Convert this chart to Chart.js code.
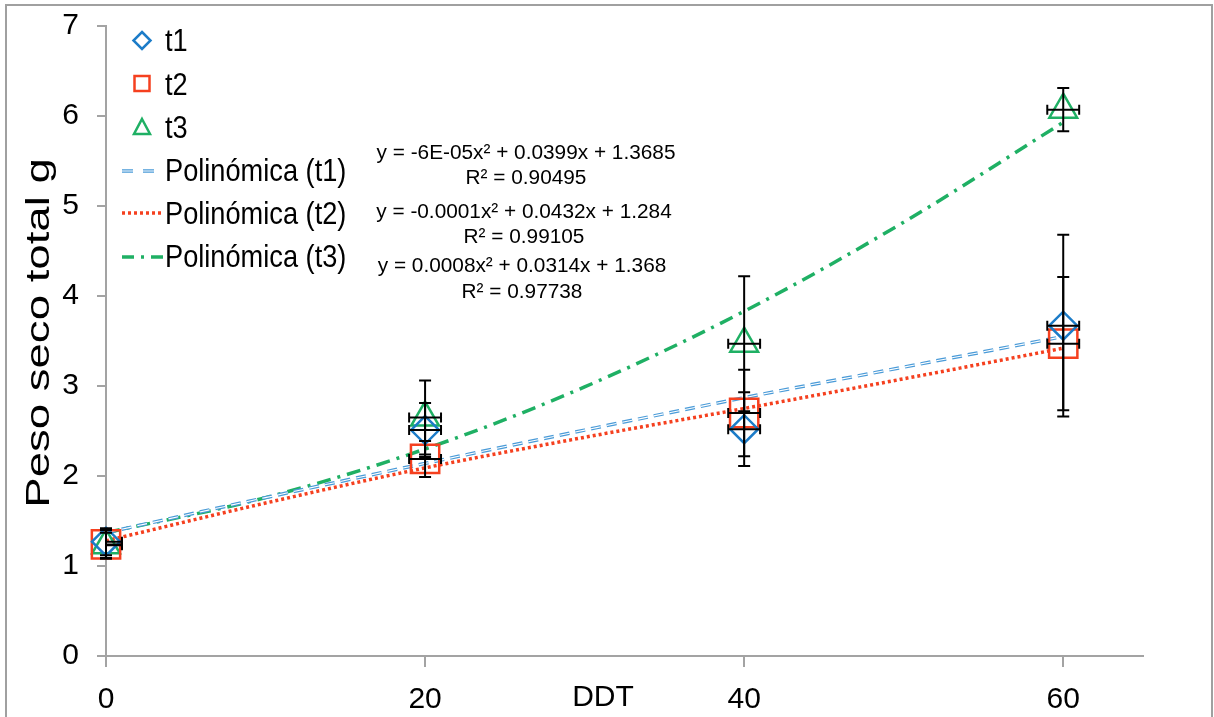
<!DOCTYPE html>
<html>
<head>
<meta charset="utf-8">
<script src="https://cdn.jsdelivr.net/npm/chart.js@4.4.1/dist/chart.umd.min.js"></script>
<style>
  html, body { margin: 0; padding: 0; background: #fff; overflow: hidden; }
</style>
</head>
<body>
<canvas id="chart" width="1214" height="717"></canvas>
<script>
// data
const ddt = [0, 20, 40, 60];
const t1 = [1.27, 2.51, 2.52, 3.67];
const t2 = [1.24, 2.19, 2.70, 3.47];
const t3 = [1.23, 2.65, 3.47, 6.07];
const t1Err = [0.15, 0.30, 0.41, 1.01];
const t2Err = [0.16, 0.20, 0.48, 0.74];
const t3Err = [0.14, 0.41, 0.75, 0.24];
const ddtErr = 1;

// trend lines (polynomial fits as drawn)
const trendX = [0, 10, 20, 30, 40, 50, 60];
const t1Trend = [1.37, 1.76, 2.14, 2.51, 2.87, 3.21, 3.55];
const t2Trend = [1.28, 1.70, 2.09, 2.43, 2.75, 3.08, 3.42];
const t3Trend = [1.37, 1.76, 2.30, 2.99, 3.83, 4.82, 5.93];

const xTicks = [0, 20, 40, 60];
const yTicks = [0, 1, 2, 3, 4, 5, 6, 7];
const seriesNames = ['t1', 't2', 't3'];
const trendNames = ['Polinómica (t1)', 'Polinómica (t2)', 'Polinómica (t3)'];
const equations = [
  ['y = -6E-05x² + 0.0399x + 1.3685', 'R² = 0.90495'],
  ['y = -0.0001x² + 0.0432x + 1.284', 'R² = 0.99105'],
  ['y = 0.0008x² + 0.0314x + 1.368', 'R² = 0.97738']
];
const xTitle = 'DDT';
const yTitle = 'Peso seco total g';

const BLUE = '#1c7cc8', RED = '#f5401f', GREEN = '#1fb064';
const TBLUE = '#4a9bd8';
const AXIS = '#a3a3a3';
const FONT = '"Liberation Sans", Arial, sans-serif';

const pts = (xs, ys) => xs.map((x, i) => ({ x: x, y: ys[i] }));

function markerSet(label, ys, err, style, r, color) {
  return {
    label: label, data: pts(ddt, ys), errY: err, clip: false,
    showLine: false, pointStyle: style, pointRadius: r, pointHoverRadius: r,
    pointBorderWidth: 2.5, borderColor: color, backgroundColor: 'rgba(0,0,0,0)'
  };
}
function trendSet(label, ys, color, dash) {
  return {
    label: label, data: pts(trendX, ys), showLine: true, pointRadius: 0,
    borderColor: color, borderWidth: 3.5, borderDash: dash, borderCapStyle: 'butt',
    cubicInterpolationMode: 'monotone', fill: false
  };
}

// white frame + grey border
const framePlugin = {
  id: 'frame',
  beforeDraw(chart) {
    const ctx = chart.ctx;
    ctx.save();
    ctx.fillStyle = '#fff';
    ctx.fillRect(0, 0, chart.width, chart.height);
    ctx.strokeStyle = '#a0a0a0';
    ctx.lineWidth = 2;
    ctx.strokeRect(6, 5, 1206, 730);
    ctx.restore();
  }
};

// double-line look for the t1 trend
const doubleLine = {
  id: 'doubleLine',
  afterDatasetDraw(chart, args) {
    if (args.index !== 3) return;
    const el = args.meta.dataset;
    const o = el.options;
    const c = o.borderColor, w = o.borderWidth;
    o.borderColor = '#ffffff'; o.borderWidth = 1.1;
    el.draw(chart.ctx, chart.chartArea);
    o.borderColor = c; o.borderWidth = w;
  }
};

// error bars (x and y)
const errorBars = {
  id: 'errorBars',
  afterDatasetsDraw(chart) {
    const ctx = chart.ctx, xs = chart.scales.x, ys = chart.scales.y;
    ctx.save();
    ctx.strokeStyle = '#000';
    ctx.lineWidth = 2;
    chart.data.datasets.forEach(ds => {
      if (!ds.errY) return;
      ds.data.forEach((p, i) => {
        const px = xs.getPixelForValue(p.x), py = ys.getPixelForValue(p.y);
        const top = ys.getPixelForValue(p.y + ds.errY[i]);
        const bot = ys.getPixelForValue(p.y - ds.errY[i]);
        let l = xs.getPixelForValue(p.x - ddtErr);
        const r = xs.getPixelForValue(p.x + ddtErr);
        const lClip = l < xs.left;
        if (lClip) l = xs.left;
        ctx.beginPath();
        ctx.moveTo(px, top); ctx.lineTo(px, bot);
        ctx.moveTo(px - 6, top); ctx.lineTo(px + 6, top);
        ctx.moveTo(px - 6, bot); ctx.lineTo(px + 6, bot);
        ctx.moveTo(l, py); ctx.lineTo(r, py);
        if (!lClip) { ctx.moveTo(l, py - 5); ctx.lineTo(l, py + 5); }
        ctx.moveTo(r, py - 5); ctx.lineTo(r, py + 5);
        ctx.stroke();
      });
    });
    ctx.restore();
  }
};

function squeezedText(ctx, text, x, y, size, sx, align) {
  ctx.save();
  ctx.translate(x, y);
  ctx.scale(sx, 1);
  ctx.font = size + 'px ' + FONT;
  ctx.textAlign = align;
  ctx.textBaseline = 'middle';
  ctx.fillText(text, 0, 0);
  ctx.restore();
}

// legend, equations and axis titles
const annotations = {
  id: 'annotations',
  afterDraw(chart) {
    const ctx = chart.ctx;
    ctx.save();
    ctx.fillStyle = '#000';
    // legend markers
    ctx.lineWidth = 2.5;
    const mx = 142;
    ctx.strokeStyle = BLUE;
    ctx.beginPath();
    ctx.moveTo(mx, 32); ctx.lineTo(mx + 8.5, 40.5); ctx.lineTo(mx, 49); ctx.lineTo(mx - 8.5, 40.5);
    ctx.closePath(); ctx.stroke();
    ctx.strokeStyle = RED;
    ctx.strokeRect(mx - 7.5, 76, 15, 15);
    ctx.strokeStyle = GREEN;
    ctx.beginPath();
    ctx.moveTo(mx, 119); ctx.lineTo(mx + 8, 134); ctx.lineTo(mx - 8, 134);
    ctx.closePath(); ctx.stroke();
    // legend line samples
    ctx.lineWidth = 3.5;
    ctx.strokeStyle = TBLUE; ctx.setLineDash([11, 10]);
    ctx.beginPath(); ctx.moveTo(122, 171); ctx.lineTo(157, 171); ctx.stroke();
    ctx.strokeStyle = '#fff'; ctx.lineWidth = 1.1;
    ctx.beginPath(); ctx.moveTo(122, 171); ctx.lineTo(157, 171); ctx.stroke();
    ctx.lineWidth = 3.5;
    ctx.strokeStyle = RED; ctx.setLineDash([3, 3]);
    ctx.beginPath(); ctx.moveTo(122, 213); ctx.lineTo(163, 213); ctx.stroke();
    ctx.strokeStyle = GREEN; ctx.setLineDash([12, 7, 3, 7]);
    ctx.beginPath(); ctx.moveTo(122, 257); ctx.lineTo(165, 257); ctx.stroke();
    ctx.setLineDash([]);
    // legend texts
    const ly = [42, 86, 129];
    seriesNames.forEach((s, i) => squeezedText(ctx, s, 165, ly[i], 32, 0.85, 'left'));
    const ty = [172, 215, 258];
    trendNames.forEach((s, i) => squeezedText(ctx, s, 165, ty[i], 32, 0.85, 'left'));
    // trend equations
    const ey = [[153, 178], [212, 237], [266, 292]];
    const ex = [526, 524, 522];
    equations.forEach((e, i) => {
      squeezedText(ctx, e[0], ex[i], ey[i][0], 20, 1.04, 'center');
      squeezedText(ctx, e[1], ex[i], ey[i][1], 20, 1.04, 'center');
    });
    // axis titles
    squeezedText(ctx, xTitle, 603, 698, 30, 1, 'center');
    ctx.save();
    ctx.translate(40, 333);
    ctx.rotate(-Math.PI / 2);
    ctx.scale(1.34, 1);
    ctx.font = '34px ' + FONT;
    ctx.textAlign = 'center';
    ctx.textBaseline = 'middle';
    ctx.fillText(yTitle, 0, 0);
    ctx.restore();
    ctx.restore();
  }
};

new Chart(document.getElementById('chart'), {
  type: 'scatter',
  data: {
    datasets: [
      markerSet('t1', t1, t1Err, 'rectRot', 14, BLUE),
      markerSet('t2', t2, t2Err, 'rect', 20, RED),
      markerSet('t3', t3, t3Err, 'triangle', 16, GREEN),
      trendSet('Polinómica (t1)', t1Trend, TBLUE, [10, 6]),
      trendSet('Polinómica (t2)', t2Trend, RED, [3, 3]),
      trendSet('Polinómica (t3)', t3Trend, GREEN, [14, 7, 3, 7])
    ]
  },
  options: {
    responsive: false,
    animation: false,
    devicePixelRatio: 1,
    layout: { autoPadding: false, padding: { left: 6, top: 26, right: 71, bottom: 0 } },
    plugins: { legend: { display: false }, tooltip: { enabled: false } },
    scales: {
      x: {
        type: 'linear', min: 0, max: 65,
        afterBuildTicks: s => { s.ticks = xTicks.map(v => ({ value: v })); },
        afterFit: s => { s.height = 61; s.paddingLeft = 0; s.paddingRight = 0; },
        grid: { drawOnChartArea: false, color: AXIS, lineWidth: 2, tickLength: 11 },
        border: { color: AXIS, width: 2 },
        ticks: { color: '#000', font: { family: FONT, size: 30 }, padding: 15, maxRotation: 0 }
      },
      y: {
        min: 0, max: 7,
        afterBuildTicks: s => { s.ticks = yTicks.map(v => ({ value: v })); },
        afterFit: s => { s.width = 100; s.paddingTop = 0; s.paddingBottom = 0; },
        grid: { drawOnChartArea: false, color: AXIS, lineWidth: 2, tickLength: 9 },
        border: { color: AXIS, width: 2 },
        ticks: { color: '#000', font: { family: FONT, size: 30 }, padding: 18 }
      }
    }
  },
  plugins: [framePlugin, doubleLine, errorBars, annotations]
});
</script>
</body>
</html>
